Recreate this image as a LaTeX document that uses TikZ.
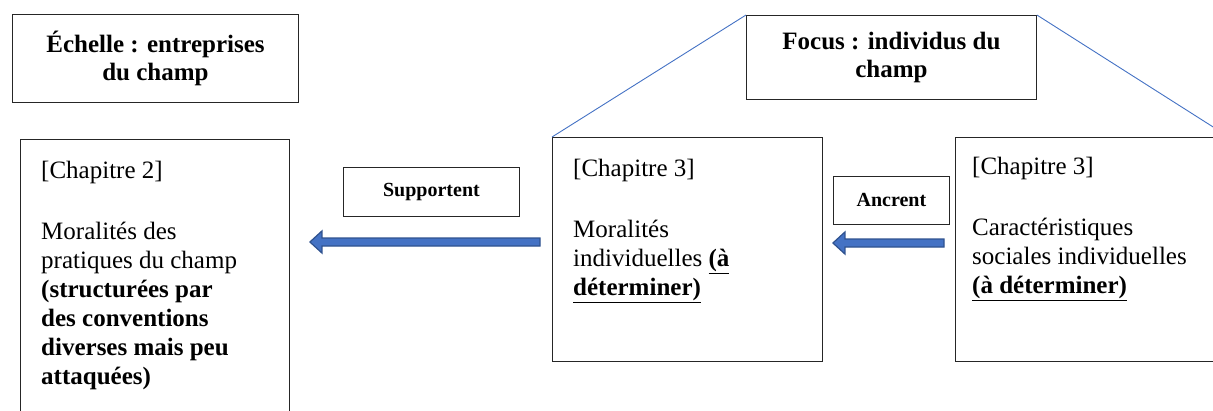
\documentclass[tikz,border=0pt]{standalone}
\usepackage{fontspec}
\setmainfont{Liberation Serif}
\usetikzlibrary{positioning,calc}
\definecolor{linkblue}{HTML}{4472C4}
\definecolor{arrowedge}{HTML}{2F528F}
\tikzset{box/.style={draw=black!85,line width=0.9pt,inner sep=0pt,anchor=north west},titlebox/.style={box,align=center,font=\fontsize{25}{28}\selectfont\bfseries},verbbox/.style={box,align=center,font=\fontsize{20}{24}\selectfont\bfseries},boxtext/.style={inner sep=0pt,anchor=north west,align=left,font=\fontsize{25}{29}\selectfont},zoomline/.style={draw=linkblue,line width=0.9pt},barrow/.style={fill=linkblue,draw=arrowedge,line width=1.2pt,line join=miter}}
\newcommand{\blockarrow}[2]{\filldraw[barrow] let \p1=(#1),\p2=(#2) in (\x1,\y1+4pt) -- (\x2+12pt,\y1+4pt) -- (\x2+12pt,\y1+11pt) -- (\x2,\y1) -- (\x2+12pt,\y1-11pt) -- (\x2+12pt,\y1-4pt) -- (\x1,\y1-4pt) -- cycle;}

\begin{document}
\begin{tikzpicture}[x=1pt,y=-1pt]
\useasboundingbox (0,0) rectangle (1213,410);
\clip (0,0) rectangle (1213,410);
\node[titlebox,minimum width=286pt,minimum height=88pt] (scale) at (12,14) {Échelle : entreprises\\du champ};
\node[titlebox,minimum width=290pt,minimum height=84pt] (focus) at (746,15) {Focus : individus du\\champ};
\node[box,minimum width=269pt,minimum height=300pt] (ch2) at (20,139) {};
\node[box,minimum width=270pt,minimum height=224pt] (moral) at (552,137) {};
\node[box,minimum width=273pt,minimum height=224pt] (carac) at (955,137) {};
\node[boxtext] (ch2txt) at ($(ch2.north west)+(21,19)$) {\strut[Chapitre 2]\\[32pt]Moralités des\\pratiques du champ\\\textbf{(structurées par}\\\textbf{des conventions}\\\textbf{diverses mais peu}\\\textbf{attaquées)}};
\node[boxtext] (moraltxt) at ($(moral.north west)+(21,19)$) {\strut[Chapitre 3]\\[32pt]Moralités\\individuelles \underline{\textbf{(à}}\\\underline{\textbf{déterminer)}}};
\node[boxtext] (caractxt) at ($(carac.north west)+(17,17)$) {\strut[Chapitre 3]\\[32pt]Caractéristiques\\sociales individuelles\\\underline{\textbf{(à déterminer)}}};
\node[verbbox,minimum width=176pt,minimum height=49pt] (supp) at (343,167) {Supportent};
\node[verbbox,minimum width=116pt,minimum height=48pt] (ancr) at (833,176) {Ancrent};
% zoom lines
\draw[zoomline] (focus.north west) -- (moral.north west);
\draw[zoomline] (focus.north east) -- (carac.north east);
% block arrows
\coordinate (suptail) at ($(moral.north west)+(-12,105)$);
\coordinate (suptip) at ($(ch2.north east)+(20,103)$);
\coordinate (anctail) at ($(carac.north west)+(-11,106)$);
\coordinate (anctip) at ($(moral.north east)+(10,106)$);
\blockarrow{suptail}{suptip}
\blockarrow{anctail}{anctip}
\end{tikzpicture}
\end{document}
